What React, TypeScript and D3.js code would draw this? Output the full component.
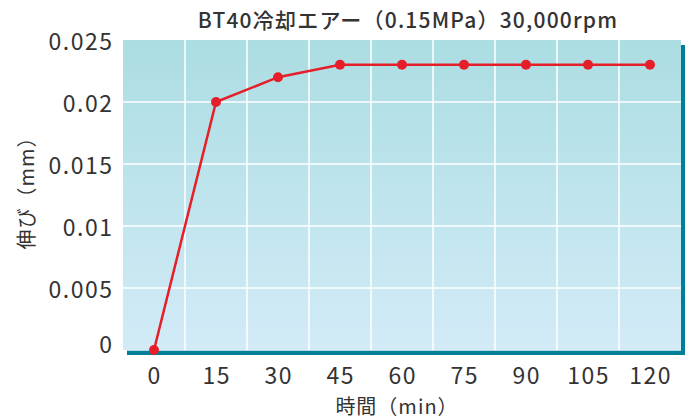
import React from 'react';
import * as d3 from 'd3';

const minutes = ['0', '15', '30', '45', '60', '75', '90', '105', '120'];
const elongation = [0, 0.02, 0.022, 0.023, 0.023, 0.023, 0.023, 0.023, 0.023];
const yTicks = [0, 0.005, 0.01, 0.015, 0.02, 0.025];
const yTickLabels = ['0', '0.005', '0.01', '0.015', '0.02', '0.025'];

const W = 692;
const H = 416;
const plot = { left: 123, right: 681, top: 40, bottom: 350 };
const font = '"Noto Sans CJK JP", "Noto Sans", sans-serif';
const teal = '#007f98';
const red = '#e61e2a';
const textColor = '#333';

const App: React.FC = () => {
  const x = d3.scaleBand<string>().domain(minutes).range([plot.left, plot.right]).padding(0);
  const y = d3.scaleLinear().domain([0, 0.025]).range([plot.bottom, plot.top]);
  const cx = (m: string) => (x(m) as number) + x.bandwidth() / 2;

  const line = d3
    .line<number>()
    .x((_, i) => cx(minutes[i]))
    .y((d) => y(d));

  return (
    <svg width={W} height={H} style={{ position: 'absolute', left: 0, top: 0 }}>
      <defs>
        <linearGradient id="bg" x1="0" y1="0" x2="0" y2="1">
          <stop offset="0%" stopColor="#abdde2" />
          <stop offset="100%" stopColor="#d2ebf7" />
        </linearGradient>
      </defs>
      <rect
        x={plot.left}
        y={plot.top}
        width={plot.right - plot.left}
        height={plot.bottom - plot.top}
        fill="url(#bg)"
      />
      {/* vertical grid at band boundaries */}
      {minutes.slice(1).map((m) => (
        <line
          key={'v' + m}
          x1={x(m) as number}
          x2={x(m) as number}
          y1={plot.top}
          y2={plot.bottom}
          stroke="#fff"
          strokeWidth={1.5}
        />
      ))}
      {yTicks.slice(1, -1).map((t) => (
        <line
          key={'h' + t}
          x1={plot.left}
          x2={plot.right}
          y1={y(t)}
          y2={y(t)}
          stroke="#fff"
          strokeWidth={1.5}
        />
      ))}
      {/* frame */}
      <rect x={plot.right} y={45} width={4} height={plot.bottom + 5 - 45} fill={teal} />
      <rect x={127} y={plot.bottom + 0.7} width={plot.right + 4 - 127} height={4.3} fill={teal} />

      <path d={line(elongation) as string} fill="none" stroke={red} strokeWidth={2.5} />
      {elongation.map((v, i) => (
        <circle key={'p' + i} cx={cx(minutes[i])} cy={y(v)} r={5} fill={red} />
      ))}

      {yTicks.map((t, i) => (
        <text
          key={'yt' + t}
          x={113.5}
          y={y(t) - (t === 0 ? 7 : 0)}
          textAnchor="end"
          dominantBaseline="central"
          fontFamily={font}
          fontSize={23}
          letterSpacing={1.5}
          fill={textColor}
        >
          {yTickLabels[i]}
        </text>
      ))}
      {minutes.map((m) => (
        <text
          key={'xt' + m}
          x={cx(m) + 0.75}
          y={374}
          textAnchor="middle"
          dominantBaseline="central"
          fontFamily={font}
          fontSize={23}
          letterSpacing={1.5}
          fill={textColor}
        >
          {m}
        </text>
      ))}

      <text
        x={408}
        y={19}
        textAnchor="middle"
        dominantBaseline="central"
        fontFamily={font}
        fontSize={21}
        fontWeight={500}
        letterSpacing={1.2}
        fill={textColor}
      >
        BT40冷却エアー（0.15MPa）30,000rpm
      </text>
      <text
        x={397}
        y={405}
        textAnchor="middle"
        dominantBaseline="central"
        fontFamily={font}
        fontSize={20}
        letterSpacing={1}
        fill={textColor}
      >
        時間（min）
      </text>
      <text
        transform="translate(25,188) rotate(-90)"
        textAnchor="middle"
        dominantBaseline="central"
        fontFamily={font}
        fontSize={20}
        letterSpacing={1}
        fill={textColor}
      >
        伸び（mm）
      </text>
    </svg>
  );
};

export default App;
